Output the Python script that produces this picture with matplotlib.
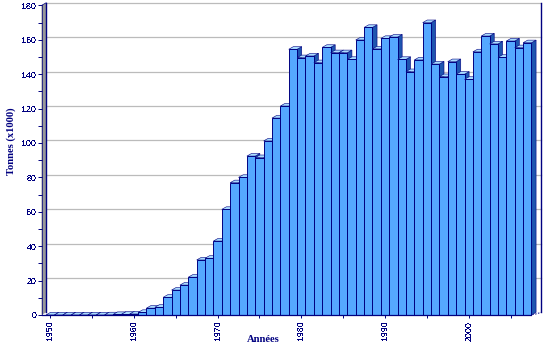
import matplotlib
matplotlib.use('Agg')
import matplotlib.pyplot as plt
import numpy as np

plt.rcParams['text.antialiased'] = False

years = np.arange(1950, 2008)
values = [0.05, 0.05, 0.05, 0.05, 0.05, 0.05, 0.05, 0.1, 0.3, 0.4,
          0.6, 1.5, 4, 4.5, 10.3, 14.5, 17.4, 22, 32, 33,
          43, 61.4, 76.9, 80, 92.4, 91.5, 101.2, 114.5, 121.5, 154.5,
          149.6, 150.6, 146.7, 155.6, 152.5, 152.5, 148.6, 159.9, 167.2, 154.7,
          160.8, 161.6, 148.6, 141.5, 148.3, 170, 145.9, 138.6, 147.3, 140,
          137, 153, 162.2, 157.6, 149.8, 159.3, 155.4, 158.3]
y_ticks = [0, 20, 40, 60, 80, 100, 120, 140, 160, 180]
x_labels = [1950, 1960, 1970, 1980, 1990, 2000]

navy = '#000080'
front = '#55A8FF'
top = '#AADCFF'
side = '#1E55AF'

W, H = 545, 358
fig = plt.figure(figsize=(W / 100, H / 100), dpi=100)
# axes span the front plane of the 3d box, in pixels
px_l, px_r, px_b, px_t = 41.5, 541, 315, 3
ax = fig.add_axes([px_l / W, 1 - px_b / H, (px_r - px_l) / W, (px_b - px_t) / H])
px_x = 8.37
px_y = 1.72
ax.set_xlim(1950 + (px_l - 50.2) / px_x, 1950 + (px_r - 50.2) / px_x)
ax.set_ylim(0, (px_b - px_t) / px_y)
ax.patch.set_alpha(0)

# depth of the fake 3d, in data units
dx = 4.6 / px_x
dy = 2.6 / px_y
x0 = ax.get_xlim()[0]
x1 = ax.get_xlim()[1]

# left wall
ax.fill([x0, x0 + dx, x0 + dx, x0], [0, dy, 180 + dy, 180], color='#999999', lw=0, zorder=1, clip_on=False)
ax.plot([x0 + dx, x0 + dx], [dy, 180 + dy], color=navy, lw=1.0, zorder=2, clip_on=False)
ax.plot([x0, x0], [0, 180], color=navy, lw=0.5, zorder=2)
ax.plot([x0, x0 + dx], [180, 180 + dy], color=navy, lw=0.5, zorder=2, clip_on=False)
# right wall line
ax.plot([x1, x1], [dy, 180 + dy], color=navy, lw=1.0, zorder=2, clip_on=False)
ax.plot([2007.5 + dx * 0.2, x1], [0, dy], color=navy, lw=0.7, ls=(0, (1.5, 1.5)), zorder=2)

# grid on the back wall
for v in y_ticks[1:]:
    ax.plot([x0 + dx, x1], [v + dy, v + dy], color='#BBBBBB', lw=0.9, zorder=1.5, clip_on=False)

# bars, left to right so the next front covers the previous side
for i, (yr, v) in enumerate(zip(years, values)):
    l, r = yr - 0.5, yr + 0.5
    z = 3 + i * 0.01
    ax.fill([r, r + dx, r + dx, r], [0, dy, v + dy, v], facecolor=side, edgecolor=navy, lw=0.4, zorder=z)
    ax.fill([l, l + dx, r + dx, r], [v, v + dy, v + dy, v], facecolor=top, edgecolor=navy, lw=0.4, zorder=z)
    ax.bar(yr, v, width=1, facecolor=front, edgecolor=navy, linewidth=0.7, zorder=z)

for s in ax.spines.values():
    s.set_visible(False)
ax.plot([x0, 2007.5], [0, 0], color=navy, lw=0.9, zorder=5, clip_on=False)

ax.set_yticks(y_ticks)
ax.set_yticks(np.arange(10, 180, 20), minor=True)
ax.set_yticklabels([str(v) for v in y_ticks], fontsize=6.4, family='Liberation Sans', color=navy)
ax.tick_params(axis='y', which='major', color=navy, length=3, width=0.7, pad=0.5)
ax.tick_params(axis='y', which='minor', color=navy, length=3, width=0.7)

ax.set_xticks(x_labels)
ax.set_xticks(np.arange(1955, 2008, 10), minor=True)
ax.set_xticklabels([str(v) for v in x_labels], fontsize=6.4, family='Liberation Sans', color=navy, rotation=90)
ax.tick_params(axis='x', which='major', color=navy, length=2.5, width=0.7, pad=1.5)
ax.tick_params(axis='x', which='minor', color=navy, length=2.5, width=0.7)

t1 = fig.text(263 / W, 1 - 340 / H, 'Années', fontsize=7.6, family='Liberation Serif', weight='bold',
              color=navy, ha='center', va='center', antialiased=True)
t2 = fig.text(11 / W, 1 - 141 / H, 'Tonnes (x1000)', fontsize=7.6, family='Liberation Serif', weight='bold',
              color=navy, ha='center', va='center', rotation=90, antialiased=True)

fig.savefig('out.png', dpi=100)
